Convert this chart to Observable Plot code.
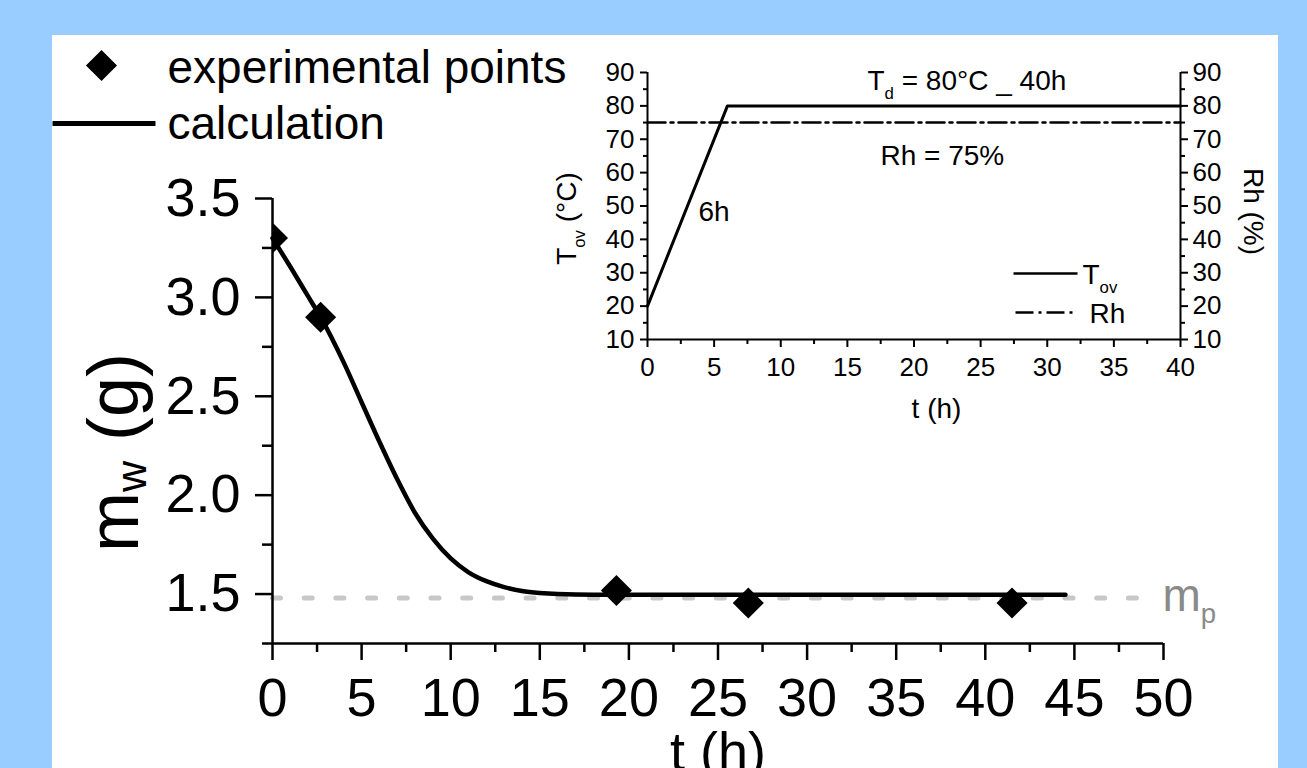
<!DOCTYPE html>
<html><head><meta charset="utf-8">
<script src="https://cdn.jsdelivr.net/npm/d3@7"></script>
<script src="https://cdn.jsdelivr.net/npm/@observablehq/plot@0.6"></script>
<style>
html,body{margin:0;padding:0;background:#99ccff;width:1307px;height:768px;overflow:hidden;font-family:Arial,"Liberation Sans",sans-serif}
#main{position:absolute;left:52px;top:35px;width:1226px;height:733px}
#inset{position:absolute;left:520px;top:40px;width:760px;height:400px}
svg{overflow:visible}
</style></head><body>
<div id="main"></div><div id="inset"></div>
<script>
// ---------- data: main chart ----------
const expT  = [0, 2.7, 19.3, 26.7, 41.5];
const expMw = [3.30, 2.90, 1.518, 1.455, 1.455];
const calcT  = [0, 1, 2, 2.7, 4, 5, 6, 7, 8, 9, 10, 11, 12, 13, 14, 15, 16, 18, 20, 25, 30, 35, 40, 44.5];
const calcMw = [3.30, 3.155, 3.005, 2.90, 2.67, 2.47, 2.27, 2.08, 1.91, 1.78, 1.68, 1.61, 1.565, 1.535, 1.515, 1.505, 1.50, 1.497, 1.497, 1.497, 1.497, 1.497, 1.497, 1.497];
const mpValue = 1.48;
const mpT = [0, 48.7];
const mainXTicks = [0, 5, 10, 15, 20, 25, 30, 35, 40, 45, 50];
const mainXMinor = [2.5, 7.5, 12.5, 17.5, 22.5, 27.5, 32.5, 37.5, 42.5, 47.5];
const mainYTicks = [1.5, 2.0, 2.5, 3.0, 3.5];
const mainYMinor = [1.25, 1.75, 2.25, 2.75, 3.25];
const legendLabels = ["experimental points", "calculation"];

// ---------- data: inset ----------
const tovT = [0, 6, 40];
const tovV = [20, 80, 80];
const rhT = [0, 40];
const rhV = [75, 75];
const insetXTicks = [0, 5, 10, 15, 20, 25, 30, 35, 40];
const insetXMinor = [2.5, 7.5, 12.5, 17.5, 22.5, 27.5, 32.5, 37.5];
const insetYTicks = [10, 20, 30, 40, 50, 60, 70, 80, 90];
const insetYMinor = [15, 25, 35, 45, 55, 65, 75, 85];

const FONT = "Arial, 'Liberation Sans', sans-serif";
const exp = expT.map((t, i) => ({t, mw: expMw[i]}));
const calc = calcT.map((t, i) => ({t, mw: calcMw[i]}));
const mpLine = mpT.map(t => ({t, mw: mpValue}));
const tov = tovT.map((t, i) => ({t, v: tovV[i]}));
const rh = rhT.map((t, i) => ({t, v: rhV[i]}));

const hline = {draw(ctx, size) { const r = Math.sqrt(size / Math.PI); ctx.moveTo(-r, 0); ctx.lineTo(r, 0); }};

function subscripts(root, scale, shift, filter = () => true) {
  d3.select(root).selectAll("text").each(function () {
    const s = this.textContent;
    if (!/\{[^}]*\}/.test(s) || !filter(s)) return;
    const fs = parseFloat(getComputedStyle(this).fontSize);
    const parts = s.split(/(\{[^}]*\})/).filter(p => p.length);
    this.textContent = "";
    let down = false;
    for (const p of parts) {
      const t = d3.select(this).append("tspan");
      if (p.startsWith("{")) {
        t.text(p.slice(1, -1)).attr("font-size", (fs * scale) + "px").attr("dy", (fs * shift) + "px");
        down = true;
      } else {
        t.text(p);
        if (down) t.attr("dy", (-fs * shift) + "px");
        down = false;
      }
    }
  });
}

const main = Plot.plot({
  width: 1226, height: 733,
  marginLeft: 220, marginTop: 163, marginRight: 115, marginBottom: 125,
  x: {domain: [0, 50], label: null},
  y: {domain: [1.25, 3.5], label: null},
  style: {background: "#fff", fontFamily: FONT, fontSize: "54px", color: "#000", overflow: "visible"},
  marks: [
    Plot.line(mpLine, {x: "t", y: "mw", stroke: "#c8c8c8", strokeWidth: 5, strokeDasharray: "8,23.7", strokeLinecap: "round"}),
    Plot.line(calc, {x: "t", y: "mw", curve: "monotone-x", stroke: "#000", strokeWidth: 4.5}),
    Plot.dot(exp, {x: "t", y: "mw", symbol: "diamond2", r: 14, fill: "#000", stroke: "none", clip: true}),
    Plot.ruleX([0], {stroke: "#000", strokeWidth: 2.5}),
    Plot.ruleY([1.25], {stroke: "#000", strokeWidth: 2.5}),
    Plot.axisX({ticks: mainXTicks, tickSize: 17, tickPadding: 17, strokeWidth: 2.5, fontSize: 54, label: null, tickFormat: d => String(d)}),
    Plot.axisX({ticks: mainXMinor, tickSize: 9, strokeWidth: 2.5, fill: "none", label: null}),
    Plot.axisY({ticks: mainYTicks, tickSize: 17, tickPadding: 15, strokeWidth: 2.5, fontSize: 54, label: null, tickFormat: d3.format(".1f")}),
    Plot.axisY({ticks: mainYMinor, tickSize: 10, strokeWidth: 2.5, fill: "none", label: null}),
    // axis titles
    Plot.text(["t (h)"], {x: null, y: null, text: d => d, frameAnchor: "bottom", dy: 126, lineAnchor: "bottom", fontSize: 54}),
    Plot.text(["m{w} (g)"], {x: null, y: null, text: d => d, frameAnchor: "top-left", dx: -135, dy: 254, rotate: -90, textAnchor: "middle", lineAnchor: "bottom", fontSize: 72}),
    // m_p label
    Plot.text([mpValue], {x: null, y: d => d, text: () => "m{p}", frameAnchor: "right", dx: -1, dy: 13, textAnchor: "start", lineAnchor: "bottom", fontSize: 46, fill: "#8a8a8a"}),
    // legend
    Plot.dot([0], {x: null, y: null, frameAnchor: "top-left", dx: -171, dy: -133, symbol: "diamond2", r: 14, fill: "#000", stroke: "none"}),
    Plot.dot([0], {x: null, y: null, frameAnchor: "top-left", dx: -168.5, dy: -75, symbol: hline, r: 51.5, fill: "none", stroke: "#000", strokeWidth: 5}),
    Plot.text([legendLabels[0]], {x: null, y: null, text: d => d, frameAnchor: "top-left", dx: -105, dy: -116, textAnchor: "start", lineAnchor: "bottom", fontSize: 46}),
    Plot.text([legendLabels[1]], {x: null, y: null, text: d => d, frameAnchor: "top-left", dx: -105, dy: -60, textAnchor: "start", lineAnchor: "bottom", fontSize: 46})
  ]
});
document.getElementById("main").append(main);
subscripts(main, 0.6, 0.12, s => s.startsWith("m{w}"));
subscripts(main, 0.6, 0.26, s => s.startsWith("m{p}"));

const inset = Plot.plot({
  width: 760, height: 400,
  marginLeft: 127, marginTop: 32, marginRight: 100, marginBottom: 101,
  x: {domain: [0, 40], label: null},
  y: {domain: [10, 90], label: null},
  style: {background: "transparent", fontFamily: FONT, fontSize: "26px", color: "#000", overflow: "visible"},
  marks: [
    Plot.line(rh, {x: "t", y: "v", stroke: "#000", strokeWidth: 2.5, strokeDasharray: "18,5,3,5"}),
    Plot.line(tov, {x: "t", y: "v", stroke: "#000", strokeWidth: 3}),
    Plot.ruleX([0], {stroke: "#000", strokeWidth: 2}),
    Plot.ruleX([40], {stroke: "#000", strokeWidth: 2}),
    Plot.ruleY([10], {stroke: "#000", strokeWidth: 2}),
    Plot.axisX({ticks: insetXTicks, tickSize: 8, tickPadding: 10, strokeWidth: 2, label: null, tickFormat: d => String(d)}),
    Plot.axisX({ticks: insetXMinor, tickSize: 5, strokeWidth: 2, fill: "none", label: null}),
    Plot.axisY({ticks: insetYTicks, anchor: "left", tickSize: 7, tickPadding: 6, strokeWidth: 2, label: null, tickFormat: d => String(d)}),
    Plot.axisY({ticks: insetYMinor, anchor: "left", tickSize: 4, strokeWidth: 2, fill: "none", label: null}),
    Plot.axisY({ticks: insetYTicks, anchor: "right", tickSize: 7, tickPadding: 5, strokeWidth: 2, label: null, tickFormat: d => String(d)}),
    Plot.axisY({ticks: insetYMinor, anchor: "right", tickSize: 4, strokeWidth: 2, fill: "none", label: null}),
    Plot.text(["T{d} = 80°C _ 40h"], {x: null, y: null, text: d => d, frameAnchor: "top-left", dx: 220, dy: 17, textAnchor: "start", lineAnchor: "bottom", fontSize: 28}),
    Plot.text(["Rh = 75%"], {x: null, y: null, text: d => d, frameAnchor: "top-left", dx: 233, dy: 92, textAnchor: "start", lineAnchor: "bottom", fontSize: 28}),
    Plot.text(["6h"], {x: null, y: null, text: d => d, frameAnchor: "top-left", dx: 51, dy: 148, textAnchor: "start", lineAnchor: "bottom", fontSize: 28}),
    Plot.text(["t (h)"], {x: null, y: null, text: d => d, frameAnchor: "top-left", dx: 289, dy: 345, textAnchor: "middle", lineAnchor: "bottom", fontSize: 28}),
    Plot.text(["T{ov} (°C)"], {x: null, y: null, text: d => d, frameAnchor: "top-left", dx: -72, dy: 146, rotate: -90, textAnchor: "middle", lineAnchor: "bottom", fontSize: 28}),
    Plot.text(["Rh (%)"], {x: null, y: null, text: d => d, frameAnchor: "top-left", dx: 596, dy: 139, rotate: 90, textAnchor: "middle", lineAnchor: "bottom", fontSize: 28}),
    // legend
    Plot.dot([0], {x: null, y: null, frameAnchor: "top-left", dx: 398, dy: 201, symbol: hline, r: 32, fill: "none", stroke: "#000", strokeWidth: 2.5}),
    Plot.dot([0], {x: null, y: null, frameAnchor: "top-left", dx: 396.5, dy: 240, symbol: hline, r: 28.5, fill: "none", stroke: "#000", strokeWidth: 2.5, strokeDasharray: "18,5,3,5"}),
    Plot.text(["T{ov}"], {x: null, y: null, text: d => d, frameAnchor: "top-left", dx: 435, dy: 211, textAnchor: "start", lineAnchor: "bottom", fontSize: 28}),
    Plot.text(["Rh"], {x: null, y: null, text: d => d, frameAnchor: "top-left", dx: 442, dy: 250, textAnchor: "start", lineAnchor: "bottom", fontSize: 28})
  ]
});
document.getElementById("inset").append(inset);
subscripts(inset, 0.6, 0.35);
</script>
</body></html>
